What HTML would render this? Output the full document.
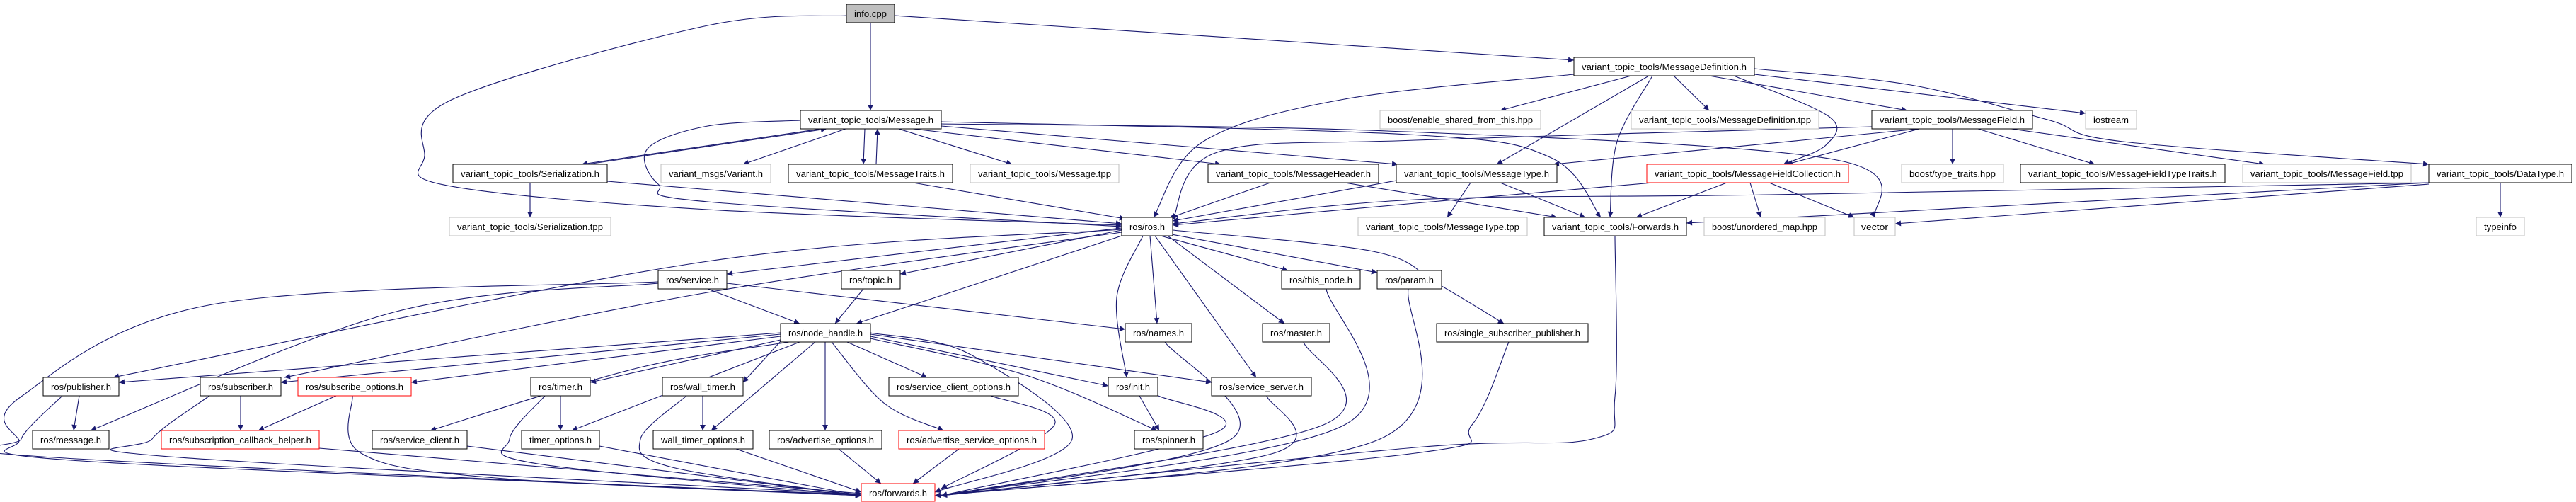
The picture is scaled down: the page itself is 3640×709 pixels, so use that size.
<!DOCTYPE html>
<html><head><meta charset="utf-8"><style>
html,body{margin:0;padding:0;background:#fff;width:3640px;height:709px;overflow:hidden}
svg{display:block}
text{font-family:"Liberation Sans",Arial,sans-serif;font-size:13px;fill:#000}
</style></head><body>
<svg id="g" width="3640" height="709" viewBox="0 0 3640 709" xmlns="http://www.w3.org/2000/svg">
<defs><marker id="a" viewBox="0 0 10 10" refX="10" refY="5" markerWidth="10" markerHeight="8" markerUnits="userSpaceOnUse" orient="auto"><path d="M0,0 L10,5 L0,10 z" fill="#191970"/></marker></defs>
<g id="edges" fill="none" stroke="#191970" stroke-width="1.1"></g>
<g id="nodes">
<rect x="1196" y="6" width="68" height="26" fill="#bfbfbf" stroke="#000"/><text x="1207" y="24" textLength="46" lengthAdjust="spacingAndGlyphs">info.cpp</text>
<rect x="1131" y="156" width="199" height="26" fill="#fff" stroke="#000"/><text x="1142" y="174" textLength="177" lengthAdjust="spacingAndGlyphs">variant_topic_tools/Message.h</text>
<rect x="2224" y="81" width="255" height="26" fill="#fff" stroke="#000"/><text x="2235" y="99" textLength="233" lengthAdjust="spacingAndGlyphs">variant_topic_tools/MessageDefinition.h</text>
<rect x="1950" y="156" width="227" height="26" fill="#fff" stroke="#bfbfbf"/><text x="1961" y="174" textLength="205" lengthAdjust="spacingAndGlyphs">boost/enable_shared_from_this.hpp</text>
<rect x="2305" y="156" width="265" height="26" fill="#fff" stroke="#bfbfbf"/><text x="2316" y="174" textLength="243" lengthAdjust="spacingAndGlyphs">variant_topic_tools/MessageDefinition.tpp</text>
<rect x="2645" y="156" width="227" height="26" fill="#fff" stroke="#000"/><text x="2656" y="174" textLength="205" lengthAdjust="spacingAndGlyphs">variant_topic_tools/MessageField.h</text>
<rect x="2947" y="156" width="72" height="26" fill="#fff" stroke="#bfbfbf"/><text x="2958" y="174" textLength="50" lengthAdjust="spacingAndGlyphs">iostream</text>
<rect x="640" y="232" width="218" height="26" fill="#fff" stroke="#000"/><text x="651" y="250" textLength="196" lengthAdjust="spacingAndGlyphs">variant_topic_tools/Serialization.h</text>
<rect x="934" y="232" width="155" height="26" fill="#fff" stroke="#bfbfbf"/><text x="945" y="250" textLength="133" lengthAdjust="spacingAndGlyphs">variant_msgs/Variant.h</text>
<rect x="1114" y="232" width="232" height="26" fill="#fff" stroke="#000"/><text x="1125" y="250" textLength="210" lengthAdjust="spacingAndGlyphs">variant_topic_tools/MessageTraits.h</text>
<rect x="1371" y="232" width="210" height="26" fill="#fff" stroke="#bfbfbf"/><text x="1382" y="250" textLength="188" lengthAdjust="spacingAndGlyphs">variant_topic_tools/Message.tpp</text>
<rect x="1707" y="232" width="241" height="26" fill="#fff" stroke="#000"/><text x="1718" y="250" textLength="219" lengthAdjust="spacingAndGlyphs">variant_topic_tools/MessageHeader.h</text>
<rect x="1973" y="232" width="227" height="26" fill="#fff" stroke="#000"/><text x="1984" y="250" textLength="205" lengthAdjust="spacingAndGlyphs">variant_topic_tools/MessageType.h</text>
<rect x="2327" y="232" width="285" height="26" fill="#fff" stroke="#f00"/><text x="2338" y="250" textLength="263" lengthAdjust="spacingAndGlyphs">variant_topic_tools/MessageFieldCollection.h</text>
<rect x="2687" y="232" width="144" height="26" fill="#fff" stroke="#bfbfbf"/><text x="2698" y="250" textLength="122" lengthAdjust="spacingAndGlyphs">boost/type_traits.hpp</text>
<rect x="2855" y="232" width="289" height="26" fill="#fff" stroke="#000"/><text x="2866" y="250" textLength="267" lengthAdjust="spacingAndGlyphs">variant_topic_tools/MessageFieldTypeTraits.h</text>
<rect x="3169" y="232" width="238" height="26" fill="#fff" stroke="#bfbfbf"/><text x="3180" y="250" textLength="216" lengthAdjust="spacingAndGlyphs">variant_topic_tools/MessageField.tpp</text>
<rect x="3432" y="232" width="202" height="26" fill="#fff" stroke="#000"/><text x="3443" y="250" textLength="180" lengthAdjust="spacingAndGlyphs">variant_topic_tools/DataType.h</text>
<rect x="635" y="307" width="228" height="26" fill="#fff" stroke="#bfbfbf"/><text x="646" y="325" textLength="206" lengthAdjust="spacingAndGlyphs">variant_topic_tools/Serialization.tpp</text>
<rect x="1585" y="307" width="72" height="26" fill="#fff" stroke="#000"/><text x="1596" y="325" textLength="50" lengthAdjust="spacingAndGlyphs">ros/ros.h</text>
<rect x="1919" y="307" width="239" height="26" fill="#fff" stroke="#bfbfbf"/><text x="1930" y="325" textLength="217" lengthAdjust="spacingAndGlyphs">variant_topic_tools/MessageType.tpp</text>
<rect x="2182" y="307" width="201" height="26" fill="#fff" stroke="#000"/><text x="2193" y="325" textLength="179" lengthAdjust="spacingAndGlyphs">variant_topic_tools/Forwards.h</text>
<rect x="2408" y="307" width="171" height="26" fill="#fff" stroke="#bfbfbf"/><text x="2419" y="325" textLength="149" lengthAdjust="spacingAndGlyphs">boost/unordered_map.hpp</text>
<rect x="2620" y="307" width="58" height="26" fill="#fff" stroke="#bfbfbf"/><text x="2630" y="325" textLength="38" lengthAdjust="spacingAndGlyphs">vector</text>
<rect x="3499" y="307" width="68" height="26" fill="#fff" stroke="#bfbfbf"/><text x="3510" y="325" textLength="46" lengthAdjust="spacingAndGlyphs">typeinfo</text>
<rect x="930" y="382" width="97" height="26" fill="#fff" stroke="#000"/><text x="941" y="400" textLength="75" lengthAdjust="spacingAndGlyphs">ros/service.h</text>
<rect x="1189" y="382" width="83" height="26" fill="#fff" stroke="#000"/><text x="1200" y="400" textLength="61" lengthAdjust="spacingAndGlyphs">ros/topic.h</text>
<rect x="1811" y="382" width="111" height="26" fill="#fff" stroke="#000"/><text x="1822" y="400" textLength="89" lengthAdjust="spacingAndGlyphs">ros/this_node.h</text>
<rect x="1946" y="382" width="91" height="26" fill="#fff" stroke="#000"/><text x="1957" y="400" textLength="69" lengthAdjust="spacingAndGlyphs">ros/param.h</text>
<rect x="1103" y="457" width="127" height="26" fill="#fff" stroke="#000"/><text x="1114" y="475" textLength="105" lengthAdjust="spacingAndGlyphs">ros/node_handle.h</text>
<rect x="1590" y="457" width="94" height="26" fill="#fff" stroke="#000"/><text x="1601" y="475" textLength="72" lengthAdjust="spacingAndGlyphs">ros/names.h</text>
<rect x="1784" y="457" width="95" height="26" fill="#fff" stroke="#000"/><text x="1795" y="475" textLength="73" lengthAdjust="spacingAndGlyphs">ros/master.h</text>
<rect x="2030" y="457" width="214" height="26" fill="#fff" stroke="#000"/><text x="2041" y="475" textLength="192" lengthAdjust="spacingAndGlyphs">ros/single_subscriber_publisher.h</text>
<rect x="61" y="533" width="107" height="26" fill="#fff" stroke="#000"/><text x="72" y="551" textLength="85" lengthAdjust="spacingAndGlyphs">ros/publisher.h</text>
<rect x="283" y="533" width="114" height="26" fill="#fff" stroke="#000"/><text x="294" y="551" textLength="92" lengthAdjust="spacingAndGlyphs">ros/subscriber.h</text>
<rect x="421" y="533" width="160" height="26" fill="#fff" stroke="#f00"/><text x="432" y="551" textLength="138" lengthAdjust="spacingAndGlyphs">ros/subscribe_options.h</text>
<rect x="750" y="533" width="84" height="26" fill="#fff" stroke="#000"/><text x="761" y="551" textLength="62" lengthAdjust="spacingAndGlyphs">ros/timer.h</text>
<rect x="936" y="533" width="114" height="26" fill="#fff" stroke="#000"/><text x="947" y="551" textLength="92" lengthAdjust="spacingAndGlyphs">ros/wall_timer.h</text>
<rect x="1256" y="533" width="183" height="26" fill="#fff" stroke="#000"/><text x="1267" y="551" textLength="161" lengthAdjust="spacingAndGlyphs">ros/service_client_options.h</text>
<rect x="1566" y="533" width="70" height="26" fill="#fff" stroke="#000"/><text x="1577" y="551" textLength="48" lengthAdjust="spacingAndGlyphs">ros/init.h</text>
<rect x="1712" y="533" width="141" height="26" fill="#fff" stroke="#000"/><text x="1723" y="551" textLength="119" lengthAdjust="spacingAndGlyphs">ros/service_server.h</text>
<rect x="46" y="608" width="108" height="26" fill="#fff" stroke="#000"/><text x="57" y="626" textLength="86" lengthAdjust="spacingAndGlyphs">ros/message.h</text>
<rect x="228" y="608" width="223" height="26" fill="#fff" stroke="#f00"/><text x="239" y="626" textLength="201" lengthAdjust="spacingAndGlyphs">ros/subscription_callback_helper.h</text>
<rect x="526" y="608" width="134" height="26" fill="#fff" stroke="#000"/><text x="537" y="626" textLength="112" lengthAdjust="spacingAndGlyphs">ros/service_client.h</text>
<rect x="737" y="608" width="110" height="26" fill="#fff" stroke="#000"/><text x="748" y="626" textLength="88" lengthAdjust="spacingAndGlyphs">timer_options.h</text>
<rect x="923" y="608" width="141" height="26" fill="#fff" stroke="#000"/><text x="934" y="626" textLength="119" lengthAdjust="spacingAndGlyphs">wall_timer_options.h</text>
<rect x="1087" y="608" width="159" height="26" fill="#fff" stroke="#000"/><text x="1098" y="626" textLength="137" lengthAdjust="spacingAndGlyphs">ros/advertise_options.h</text>
<rect x="1270" y="608" width="206" height="26" fill="#fff" stroke="#f00"/><text x="1281" y="626" textLength="184" lengthAdjust="spacingAndGlyphs">ros/advertise_service_options.h</text>
<rect x="1603" y="608" width="97" height="26" fill="#fff" stroke="#000"/><text x="1614" y="626" textLength="75" lengthAdjust="spacingAndGlyphs">ros/spinner.h</text>
<rect x="1217" y="683" width="104" height="25" fill="#fff" stroke="#f00"/><text x="1228" y="701" textLength="82" lengthAdjust="spacingAndGlyphs">ros/forwards.h</text>
</g>
</svg>
<script>
var E=[
[[749,258],[749,307]],
[[1196,22],[1000,36],[640,140],[600,220],[632,262],[1000,296],[1585,318]],
[[1230,32],[1230,156]],
[[1264,22],[2224,85]],
[[1160,182],[822,232]],[[830,232],[1168,182]],
[[1131,170],[1000,178],[915,210],[930,260],[1000,285],[1585,320]],
[[1195,182],[1050,232]],
[[1222,182],[1220,232]],[[1238,232],[1240,182]],
[[1270,182],[1430,232]],
[[1290,182],[1725,232]],
[[1330,178],[1975,232]],
[[1330,172],[1990,190],[2190,222],[2262,307]],
[[1330,175],[1960,185],[2590,225],[2650,307]],
[[1290,258],[1590,309]],
[[858,256],[1585,316]],
[[1795,258],[1652,308]],
[[1900,258],[2200,307]],
[[1990,252],[1657,312]],
[[2078,258],[2045,307]],
[[2120,258],[2240,307]],
[[2224,105],[1900,140],[1700,200],[1630,307]],
[[2305,107],[2120,156]],
[[2330,107],[2115,232]],
[[2335,107],[2285,200],[2275,307]],
[[2365,107],[2415,156]],
[[2415,107],[2695,156]],
[[2450,107],[2585,165],[2580,205],[2520,232]],
[[2479,105],[2947,160]],
[[2479,97],[2700,120],[2893,169],[3000,200],[3432,232]],
[[2645,179],[2000,198],[1720,215],[1657,310]],
[[2712,182],[2195,232]],
[[2712,182],[2525,232]],
[[2759,182],[2759,232]],
[[2795,182],[2960,232]],
[[2842,182],[3200,232]],
[[2336,258],[2000,287],[1657,318]],
[[2440,258],[2312,307]],
[[2473,258],[2488,307]],
[[2500,258],[2620,307]],
[[3432,258],[2500,275],[2000,282],[1657,316]],
[[3432,258],[2383,315]],
[[3432,260],[2678,316]],
[[3533,258],[3533,307]],
[[2282,333],[2282,560],[2250,620],[2000,632],[1321,700]],
[[1585,322],[1027,387]],
[[1585,325],[1272,387]],
[[1585,333],[1210,457]],
[[1585,324],[1000,369],[160,533]],
[[1585,328],[1000,413],[402,533]],
[[1640,333],[1820,382]],
[[1650,330],[1946,385]],
[[1625,333],[1635,457]],
[[1650,333],[1815,457]],
[[1615,333],[1578,420],[1592,533]],
[[1632,333],[1775,533]],
[[1657,325],[1940,355],[2030,400],[2125,457]],
[[1000,408],[1130,457]],
[[1027,400],[1590,465]],
[[930,400],[560,440],[128,608]],
[[930,398],[300,430],[30,560],[26,620],[100,650],[1000,690],[1217,698]],
[[1220,408],[1180,457]],
[[1103,470],[168,540]],
[[1103,472],[397,540]],
[[1103,475],[581,540]],
[[1103,480],[834,540]],
[[1103,482],[1050,540]],
[[1115,483],[900,520],[608,608]],
[[1130,483],[808,608]],
[[1152,483],[1005,608]],
[[1166,483],[1166,608]],
[[1175,483],[1250,570],[1333,608]],
[[1197,483],[1310,533]],
[[1230,475],[1566,545]],
[[1230,472],[1712,540]],
[[1230,478],[1450,530],[1635,608]],
[[1230,470],[1370,500],[1515,620],[1321,695]],
[[112,559],[104,608]],
[[88,559],[30,620],[60,645],[1217,700]],
[[340,559],[340,608]],
[[296,559],[215,620],[240,645],[1217,698]],
[[475,559],[365,608]],
[[498,559],[510,640],[700,675],[1217,700]],
[[451,633],[1217,697]],
[[792,559],[792,608]],
[[770,559],[720,620],[760,655],[1217,700]],
[[993,559],[993,608]],
[[970,559],[905,620],[950,660],[1217,700]],
[[660,630],[1217,700]],
[[847,630],[1217,700]],
[[1040,634],[1217,695]],
[[1185,634],[1245,683]],
[[1355,634],[1290,683]],
[[1400,559],[1490,600],[1330,690]],
[[1610,559],[1638,608]],
[[1637,559],[1720,610],[1330,700]],
[[1646,483],[1740,620],[1330,700]],
[[1842,483],[1870,600],[1330,700]],
[[1790,559],[1800,640],[1330,700]],
[[1874,408],[1900,600],[1330,700]],
[[1990,408],[1950,620],[1330,700]],
[[2132,483],[2080,600],[2000,640],[1321,700]]
];
function path(p){
 if(p.length==2)return "M"+p[0]+"L"+p[1];
 var d="M"+p[0];
 for(var i=0;i<p.length-1;i++){
  var p0=p[i-1]||p[i],p1=p[i],p2=p[i+1],p3=p[i+2]||p2;
  var c1=[p1[0]+(p2[0]-p0[0])/6,p1[1]+(p2[1]-p0[1])/6];
  var c2=[p2[0]-(p3[0]-p1[0])/6,p2[1]-(p3[1]-p1[1])/6];
  d+="C"+c1+" "+c2+" "+p2;
 }
 return d;
}
var g=document.getElementById("edges"),s="";
E.forEach(function(p){s+='<path d="'+path(p)+'" marker-end="url(#a)"/>';});
g.innerHTML=s;
</script>
</body></html>
